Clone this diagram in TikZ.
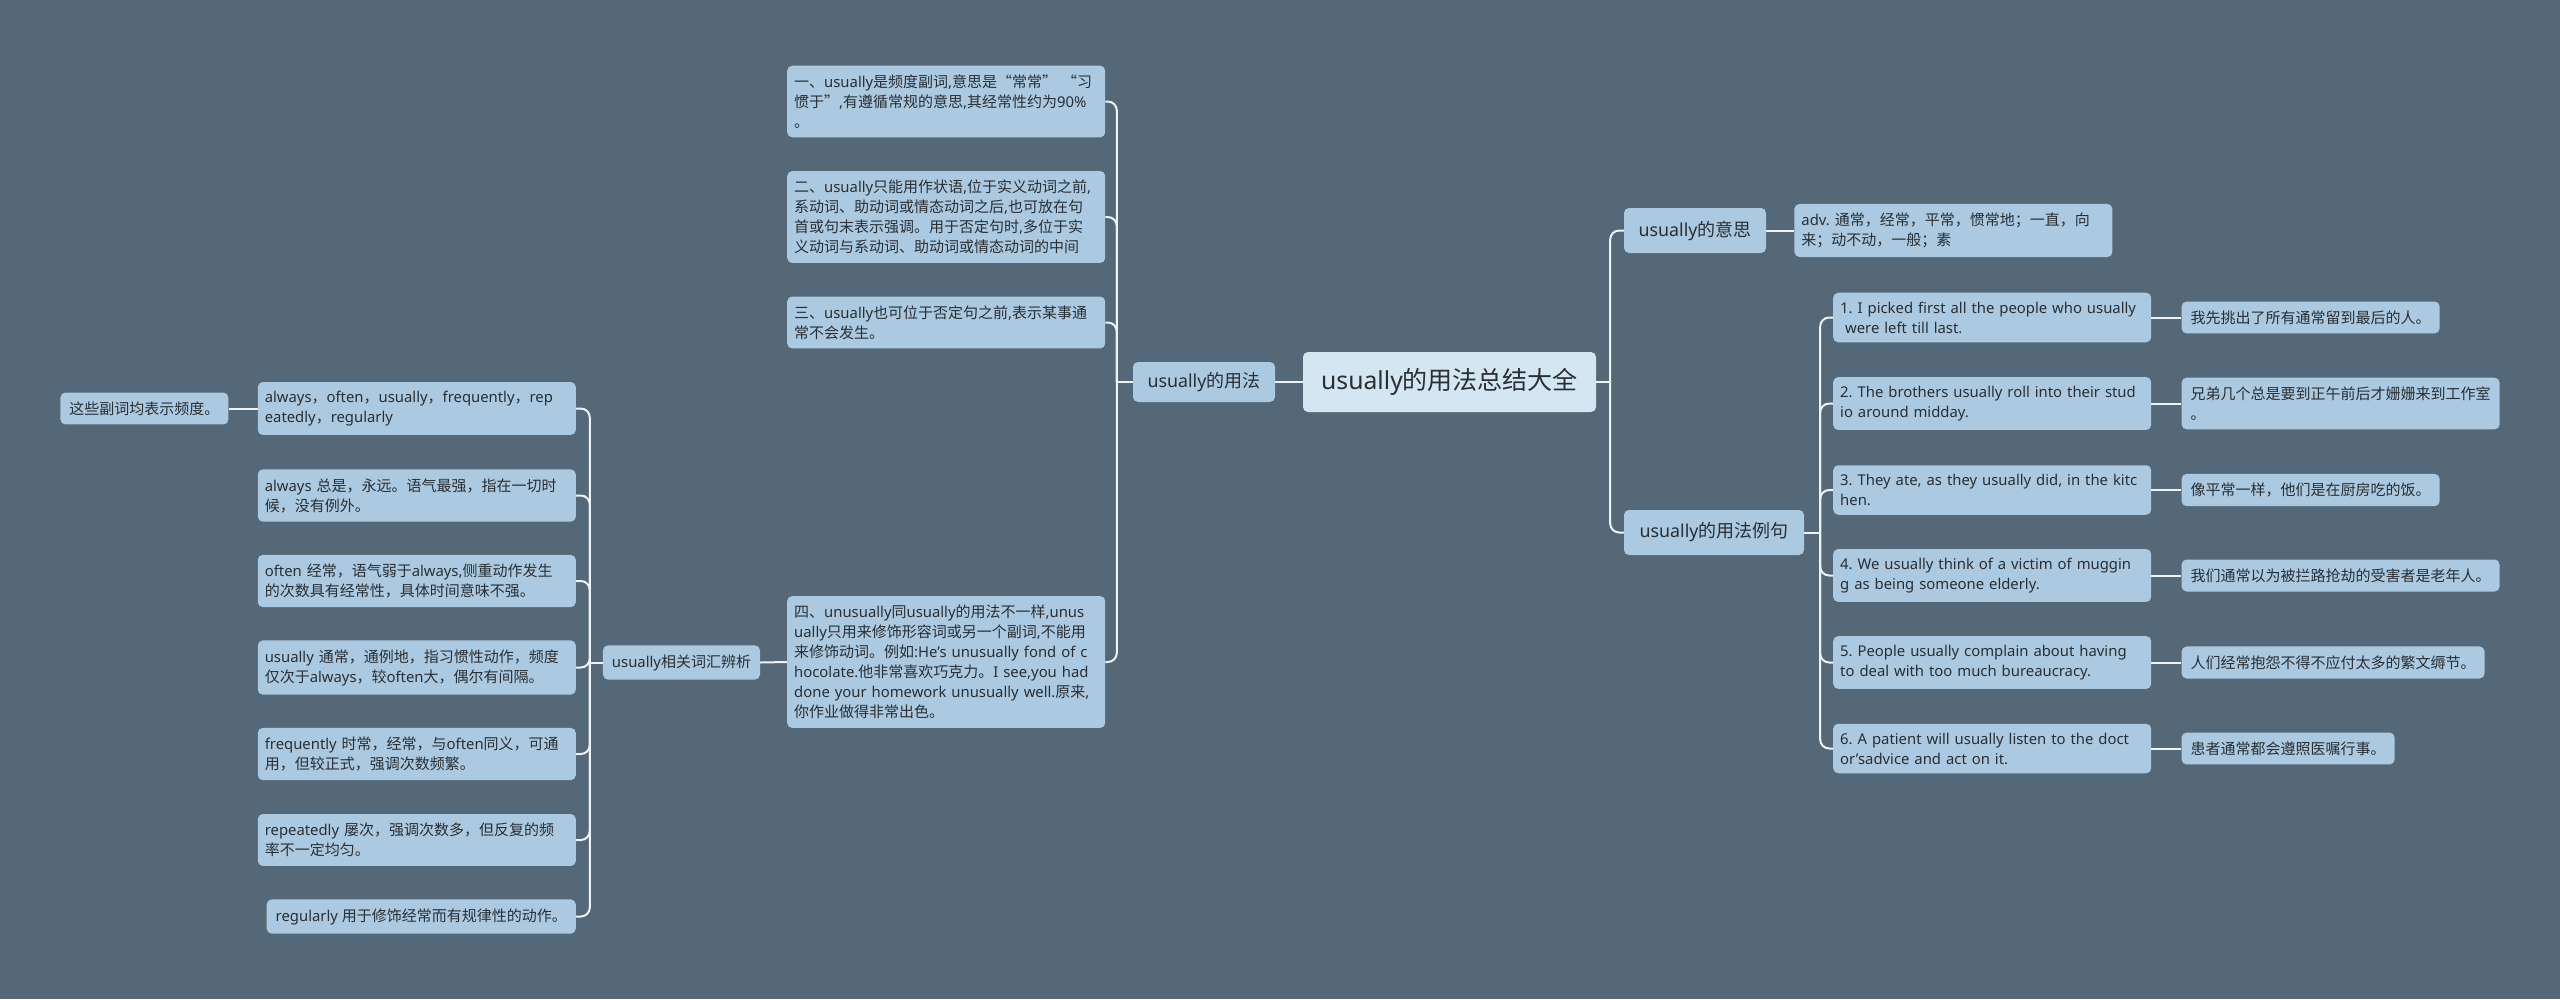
\documentclass[tikz,border=0pt]{standalone}
\usepackage{fontspec}
\setmainfont{Noto Sans}[Scale=0.99]
\newfontfamily\cjkfont{Noto Sans CJK SC}
\usetikzlibrary{positioning}

% switch to the CJK face on Chinese characters and back on Latin ones
\XeTeXinterchartokenstate=1
\newXeTeXintercharclass\cjkcls
\newcount\cjkcnt
\def\setcjkrange#1#2{\cjkcnt=#1\relax
  \loop\XeTeXcharclass\cjkcnt=\cjkcls
  \ifnum\cjkcnt<#2\relax\advance\cjkcnt by 1 \repeat}
\setcjkrange{"4E00}{"9FFF}
\setcjkrange{"3000}{"303F}
\setcjkrange{"FF00}{"FFEF}
\XeTeXcharclass"201C=\cjkcls
\XeTeXcharclass"201D=\cjkcls
\XeTeXinterchartoks 0 \cjkcls = {\cjkfont}
\XeTeXinterchartoks 4095 \cjkcls = {\cjkfont}
\XeTeXinterchartoks \cjkcls 0 = {\normalfont}

\definecolor{bgc}{HTML}{546878}
\definecolor{boxc}{HTML}{ABC9E0}
\definecolor{rootc}{HTML}{D3E6F1}
\definecolor{linkc}{HTML}{EEF3F6}
\definecolor{txtc}{HTML}{2A2F33}

\begin{document}
\frenchspacing
\begin{tikzpicture}[
    x=1pt, y=-1pt,
    node distance=30pt,
    topic/.style={rectangle, fill=rootc, rounded corners=5pt, minimum width=293pt, minimum height=60pt, inner sep=0pt, text=txtc, font=\fontsize{25pt}{30pt}\selectfont},
    branch/.style={rectangle, fill=boxc, rounded corners=5pt, minimum height=45pt, inner xsep=10pt, text=txtc, font=\fontsize{18pt}{22pt}\selectfont},
    note/.style={rectangle, fill=boxc, rounded corners=5pt, text width=304pt, align=left, inner xsep=7pt, inner ysep=9pt, text=txtc, font=\fontsize{15pt}{20pt}\selectfont},
    leaf/.style={rectangle, fill=boxc, rounded corners=5pt, align=left, inner xsep=9pt, inner ysep=9pt, text=txtc, font=\fontsize{15pt}{20pt}\selectfont},
    link/.style={draw=linkc, line width=2pt, rounded corners=9pt}
]
    \fill[bgc] (0,0) rectangle (2560,999);

    % centre
    \node[topic] (root) at (1449.5,382) {usually的用法总结大全};

    % left branch
    \node[branch, minimum width=142pt, minimum height=40pt] (use) at (1204,382) {usually的用法};
    \node[note, anchor=west] (l1) at (787,101.5) {一、usually是频度副词,意思是“常常” “习\\惯于”,有遵循常规的意思,其经常性约为90\%\\。};
    \node[note, anchor=west] (l2) at (787,217) {二、usually只能用作状语,位于实义动词之前,\\系动词、助动词或情态动词之后,也可放在句\\首或句末表示强调。用于否定句时,多位于实\\义动词与系动词、助动词或情态动词的中间};
    \node[note, anchor=west] (l3) at (787,322.5) {三、usually也可位于否定句之前,表示某事通\\常不会发生。};
    \node[note, anchor=west] (l4) at (787,662) {四、unusually同usually的用法不一样,unus\\ually只用来修饰形容词或另一个副词,不能用\\来修饰动词。例如:He's unusually fond of c\\hocolate.他非常喜欢巧克力。I see,you had\\done your homework unusually well.原来,\\你作业做得非常出色。};

    \node[leaf] (vocab) at (681.5,662.5) {usually相关词汇辨析};
    \node[note, anchor=east] (w1) at (576,408.5) {always，often，usually，frequently，rep\\eatedly，regularly};
    \node[note, anchor=east] (w2) at (576,495.5) {always 总是，永远。语气最强，指在一切时\\候，没有例外。};
    \node[note, anchor=east] (w3) at (576,581) {often 经常，语气弱于always,侧重动作发生\\的次数具有经常性，具体时间意味不强。};
    \node[note, anchor=east] (w4) at (576,667.5) {usually 通常，通例地，指习惯性动作，频度\\仅次于always，较often大，偶尔有间隔。};
    \node[note, anchor=east] (w5) at (576,754) {frequently 时常，经常，与often同义，可通\\用，但较正式，强调次数频繁。};
    \node[note, anchor=east] (w6) at (576,840) {repeatedly 屡次，强调次数多，但反复的频\\率不一定均匀。};
    \node[leaf, anchor=east] (w7) at (576,916.5) {regularly 用于修饰经常而有规律性的动作。};
    \node[leaf, left=29pt of w1] (freq) {这些副词均表示频度。};

    % right branch
    \node[branch, minimum width=142pt] (mean) at (1695,230.5) {usually的意思};
    \node[note, right=28pt of mean] (adv) {adv. 通常，经常，平常，惯常地；一直，向\\来；动不动，一般；素};
    \node[branch, minimum width=180pt] (exm) at (1714,532.5) {usually的用法例句};

    \node[note, anchor=west] (e1) at (1833,317.5) {1. I picked first all the people who usually\\\ were left till last.};
    \node[note, anchor=west] (e2) at (1833,403.5) {2. The brothers usually roll into their stud\\io around midday.};
    \node[note, anchor=west] (e3) at (1833,490) {3. They ate, as they usually did, in the kitc\\hen.};
    \node[note, anchor=west] (e4) at (1833,575.5) {4. We usually think of a victim of muggin\\g as being someone elderly.};
    \node[note, anchor=west] (e5) at (1833,662.5) {5. People usually complain about having\\to deal with too much bureaucracy.};
    \node[note, anchor=west] (e6) at (1833,748.5) {6. A patient will usually listen to the doct\\or'sadvice and act on it.};

    \node[leaf, right=of e1] (t1) {我先挑出了所有通常留到最后的人。};
    \node[leaf, right=of e2] (t2) {兄弟几个总是要到正午前后才姗姗来到工作室\\。};
    \node[leaf, right=of e3] (t3) {像平常一样，他们是在厨房吃的饭。};
    \node[leaf, right=of e4] (t4) {我们通常以为被拦路抢劫的受害者是老年人。};
    \node[leaf, right=of e5] (t5) {人们经常抱怨不得不应付太多的繁文缛节。};
    \node[leaf, right=of e6] (t6) {患者通常都会遵照医嘱行事。};

    % connectors
    \coordinate (usesp) at ([xshift=-16pt]use.west);
    \coordinate (vocsp) at ([xshift=-13pt]vocab.west);
    \coordinate (rootsp) at ([xshift=14pt]root.east);
    \coordinate (exsp) at ([xshift=16pt]exm.east);

    \draw[link] (root.west) -- (use.east);
    \draw[link] (use.west) -- (usesp);
    \foreach \n in {l1,l2,l3,l4}
        \draw[link] (usesp) |- (\n.east);
    \draw[link] (l4.west) -- (vocab.east);
    \draw[link] (vocab.west) -- (vocsp);
    \foreach \n in {w1,w2,w3,w4,w5,w6,w7}
        \draw[link] (vocsp) |- (\n.east);
    \draw[link] (w1.west) -- (freq.east);

    \draw[link] (root.east) -- (rootsp);
    \draw[link] (rootsp) |- (mean.west);
    \draw[link] (rootsp) |- (exm.west);
    \draw[link] (mean.east) -- (adv.west);
    \draw[link] (exm.east) -- (exsp);
    \foreach \i in {1,...,6} {
        \draw[link] (exsp) |- (e\i.west);
        \draw[link] (e\i.east) -- (t\i.west);
    }
\end{tikzpicture}
\end{document}
